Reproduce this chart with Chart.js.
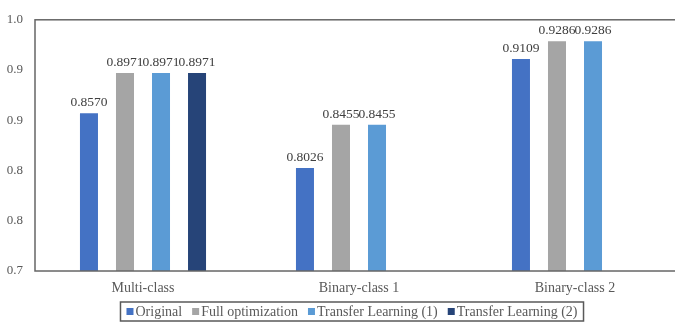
<!DOCTYPE html>
<html>
<head>
<meta charset="utf-8">
<script src="https://cdn.jsdelivr.net/npm/chart.js@4/dist/chart.umd.min.js"></script>
<style>
  html, body { margin: 0; padding: 0; background: #fff; overflow: hidden; }
  #wrap { width: 704px; height: 323px; }
</style>
</head>
<body>
<div id="wrap"><canvas id="c" width="704" height="323"></canvas></div>
<script>
// Accuracy per task type and training strategy
const categories = ['Multi-class', 'Binary-class 1', 'Binary-class 2'];
const seriesNames = ['Original', 'Full optimization', 'Transfer Learning (1)', 'Transfer Learning (2)'];
const original = [0.8570, 0.8026, 0.9109];
const fullOptimization = [0.8971, 0.8455, 0.9286];
const transferLearning1 = [0.8971, 0.8455, 0.9286];
const transferLearning2 = [0.8971, null, null];
const seriesColors = ['#4472C4', '#A5A5A5', '#5B9BD5', '#264478'];

const SERIF = "'Liberation Serif', 'Times New Roman', serif";
const series = [original, fullOptimization, transferLearning1, transferLearning2];

// value labels, plot frame and legend
const decorations = {
  id: 'decorations',
  afterDatasetsDraw(chart) {
    const ctx = chart.ctx;
    ctx.save();
    ctx.font = '13.5px ' + SERIF;
    ctx.fillStyle = '#404040';
    ctx.textAlign = 'center';
    ctx.textBaseline = 'bottom';
    chart.data.datasets.forEach((ds, i) => {
      chart.getDatasetMeta(i).data.forEach((bar, j) => {
        const v = ds.data[j];
        if (v === null || v === undefined) return;
        ctx.fillText(v.toFixed(4), bar.x, bar.y - 4);
      });
    });
    ctx.restore();
  },
  afterDraw(chart) {
    const ctx = chart.ctx;
    const a = chart.chartArea;
    ctx.save();
    ctx.strokeStyle = '#666666';
    ctx.lineWidth = 1.5;
    ctx.strokeRect(a.left, a.top, a.right - a.left, a.bottom - a.top);

    // legend
    ctx.font = '14px ' + SERIF;
    const sw = 7, gapTxt = 2, gapItem = 10, padX = 6;
    const widths = seriesNames.map(n => ctx.measureText(n).width);
    let total = 0;
    widths.forEach((w, i) => { total += sw + gapTxt + w + (i < widths.length - 1 ? gapItem : 0); });
    const cx = 352;
    const boxW = total + padX * 2;
    const boxTop = 302, boxH = 19;
    ctx.strokeStyle = '#595959';
    ctx.lineWidth = 1.5;
    ctx.strokeRect(cx - boxW / 2, boxTop, boxW, boxH);
    let x = cx - total / 2;
    const midY = boxTop + boxH / 2;
    ctx.textBaseline = 'middle';
    ctx.textAlign = 'left';
    seriesNames.forEach((n, i) => {
      ctx.fillStyle = seriesColors[i];
      ctx.fillRect(x, midY - 3.5, sw, sw);
      x += sw + gapTxt;
      ctx.fillStyle = '#595959';
      ctx.fillText(n, x, midY + 1);
      x += widths[i] + gapItem;
    });
    ctx.restore();
  }
};

new Chart(document.getElementById('c'), {
  type: 'bar',
  data: {
    labels: categories,
    datasets: series.map((d, i) => ({
      label: seriesNames[i],
      data: d,
      backgroundColor: seriesColors[i],
      borderWidth: 0,
      categoryPercentage: 0.667,
      barPercentage: 0.5
    }))
  },
  options: {
    responsive: false,
    animation: false,
    layout: { padding: { left: 0, top: 15, right: 21, bottom: 0 } },
    plugins: { legend: { display: false }, tooltip: { enabled: false } },
    scales: {
      x: {
        grid: { display: false, drawTicks: false },
        border: { display: false },
        ticks: { color: '#595959', font: { family: SERIF, size: 14 }, padding: 9 },
        afterFit(s) { s.height = 52; }
      },
      y: {
        min: 0.7,
        max: 0.95,
        grid: { display: false, drawTicks: false },
        border: { display: false },
        ticks: {
          stepSize: 0.05,
          color: '#595959',
          font: { family: SERIF, size: 13 },
          padding: 12,
          callback(v) {
            const r = Math.round(v * 1000);
            return (Math.round(r / 100) / 10).toFixed(1);
          }
        },
        afterFit(s) { s.width = 35; }
      }
    }
  },
  plugins: [decorations]
});
</script>
</body>
</html>
